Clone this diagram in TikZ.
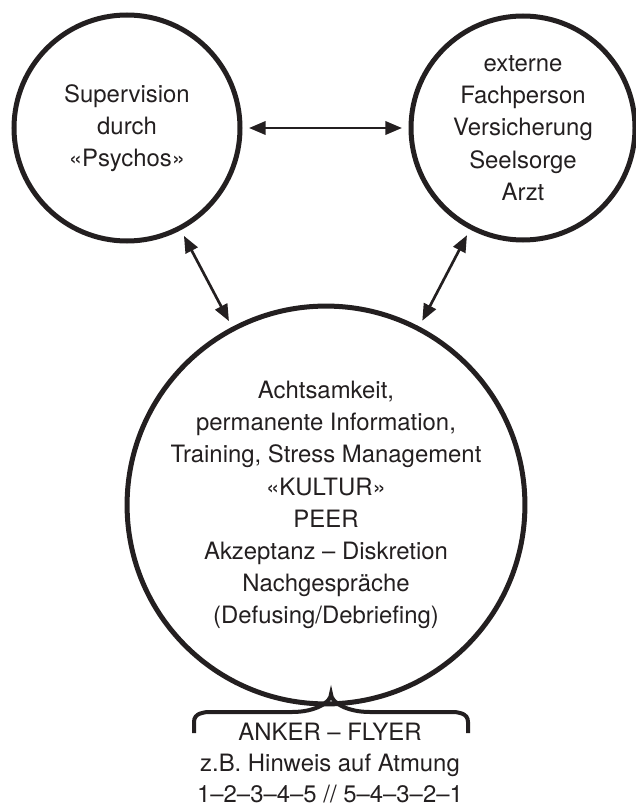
\documentclass[tikz,border=0pt]{standalone}
\usepackage{fontspec}
\setmainfont{TeX Gyre Heros}
\usetikzlibrary{arrows.meta}
\definecolor{psInk}{HTML}{231F20}
\tikzset{
  ps circle/.style={
    circle,
    draw=psInk,
    line width=1.5mm,
    inner sep=0pt,
    outer sep=2.7mm,
    text=psInk,
    align=center,
    font=\fontsize{20.4}{27.5}\selectfont
  },
  ps link/.style={
    draw=psInk,
    line width=.8mm,
    {Triangle[length=5mm,width=4mm]}-{Triangle[length=5mm,width=4mm]}
  },
  ps brace/.style={draw=psInk, line width=1.2mm, line join=miter},
  ps label/.style={text=psInk, align=center, font=\fontsize{20.4}{26.5}\selectfont}
}

\begin{document}
\begin{tikzpicture}[x=.3mm,y=-.3mm]
  \useasboundingbox (0,0) rectangle (635,809);

  \node[ps circle, minimum size=67.8mm] (sup) at (127,128)
    {Supervision\\durch\\«Psychos»};
  \node[ps circle, minimum size=67.2mm] (ext) at (523,128)
    {externe\\Fachperson\\Versicherung\\Seelsorge\\Arzt};
  \node[ps circle, minimum size=111.6mm] (base) at (326,505)
    {Achtsamkeit,\\permanente Information,\\Training, Stress Management\\«KULTUR»\\PEER\\Akzeptanz – Diskretion\\Nachgespräche\\(Defusing/Debriefing)};

  \draw[ps link] (sup) -- (ext);
  \draw[ps link] (sup) -- (base);
  \draw[ps link] (ext) -- (base);

  % anchor note below
  \coordinate (braceL) at (194,733);
  \coordinate (braceTip) at (331,694);
  \coordinate (braceR) at (468,733);
  \draw[ps brace] (braceL) -- ++(0,-11)
    .. controls +(0,-9) and +(-6,0) .. ++(16,-10) -- (292,712)
    .. controls +(24,0) and +(0,8) .. (braceTip)
    .. controls +(0,8) and +(-24,0) .. (370,712) -- (452,712)
    .. controls +(6,0) and +(0,-9) .. ++(16,10) -- (braceR);
  \node[ps label] (anker) at (330,763)
    {ANKER – FLYER\\z.B. Hinweis auf Atmung\\1–2–3–4–5 // 5–4–3–2–1};
\end{tikzpicture}
\end{document}
